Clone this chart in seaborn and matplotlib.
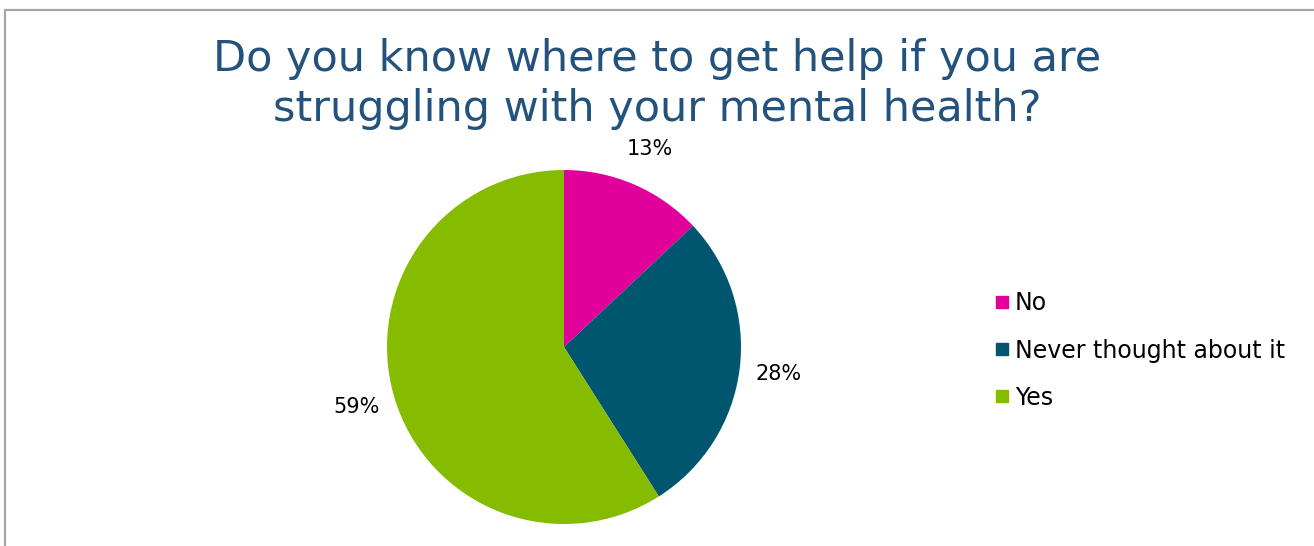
import matplotlib
matplotlib.use("Agg")
import matplotlib.pyplot as plt
from matplotlib.lines import Line2D
from matplotlib.patches import Rectangle
import seaborn as sns

categories = ["No", "Never thought about it", "Yes"]
shares = [13, 28, 59]
colors = ["#E2009A", "#00566F", "#86BC00"]
title_text = "Do you know where to get help if you are\nstruggling with your mental health?"

sns.set_theme(style="white")
plt.rcParams["font.family"] = ["DejaVu Sans"]
plt.rcParams["text.color"] = "black"

W, H = 1314, 546
fig = plt.figure(figsize=(W / 100, H / 100), dpi=100)
fig.patch.set_facecolor("white")

# outer frame (only top and left edges fall inside the canvas)
fig.add_artist(Rectangle((4.5 / W, -0.1), 1.2, (H - 9.5) / H + 0.1,
                         transform=fig.transFigure, fill=False,
                         edgecolor="#A6A6A6", linewidth=1.6))

# pie axes: centre (564, 347) px, radius 177 px
cx, cy, r = 564, H - 347, 177
ax = fig.add_axes([(cx - r) / W, (cy - r) / H, 2 * r / W, 2 * r / H])
wedges, texts = ax.pie(shares, colors=colors, startangle=90, counterclock=False,
                       labels=[f"{v}%" for v in shares], labeldistance=1.22,
                       wedgeprops=dict(linewidth=0, edgecolor="none"),
                       textprops=dict(fontsize=15, color="black"))
for t in texts:
    t.set_ha("center")
ax.set_xlim(-1, 1)
ax.set_ylim(-1, 1)
ax.set_aspect("equal")
ax.axis("off")

fig.text(0.5, (H - 84) / H, title_text, ha="center", va="center",
         fontsize=31, color="#23527C", linespacing=1.25)

handles = [Line2D([], [], marker="s", linestyle="none", markersize=9,
                  markerfacecolor=c, markeredgecolor=c) for c in colors]
leg = fig.legend(handles, categories, loc="upper left",
                 bbox_to_anchor=(982 / W, (H - 282) / H), frameon=False,
                 fontsize=17, handletextpad=0.1, labelspacing=0.98,
                 handlelength=0.9, borderaxespad=0, labelcolor="black")

fig.savefig("out.png", dpi=100, facecolor="white")
